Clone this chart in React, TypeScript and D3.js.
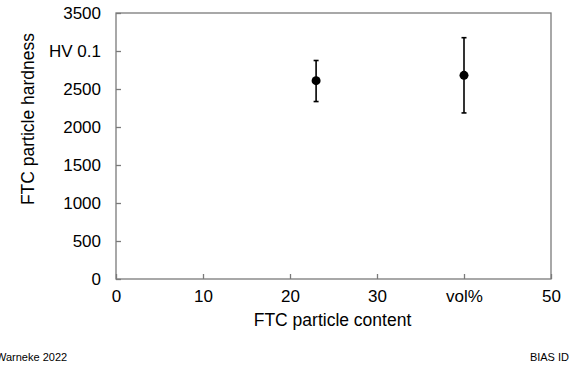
import { useEffect, useRef } from "react"
import * as d3 from "d3"

const content = [23, 40]
const hardness = [2610, 2680]
const errLow = [2335, 2185]
const errHigh = [2875, 3175]

const xTicks = [0, 10, 20, 30, 40, 50]
const xTickLabels = ["0", "10", "20", "30", "vol%", "50"]
const yTicks = [0, 500, 1000, 1500, 2000, 2500, 3000, 3500]
const yTickLabels = ["0", "500", "1000", "1500", "2000", "2500", "HV 0.1", "3500"]

const App = () => {
  const svgRef = useRef<SVGSVGElement>(null)

  useEffect(() => {
    const svg = d3.select(svgRef.current)
    svg.selectAll("*").remove()

    const W = 570
    const H = 368
    const margin = { top: 13, right: 19, bottom: 89, left: 116 }
    const width = W - margin.left - margin.right
    const height = H - margin.top - margin.bottom
    const font = "Liberation Sans, Arial, sans-serif"
    const axisColor = "#7a7a7a"

    svg.attr("width", W).attr("height", H)

    const g = svg.append("g").attr("transform", `translate(${margin.left},${margin.top})`)

    const x = d3.scaleLinear().domain([0, 50]).range([0, width])
    const y = d3.scaleLinear().domain([0, 3500]).range([height, 0])

    // frame
    g.append("rect")
      .attr("width", width)
      .attr("height", height)
      .attr("fill", "none")
      .attr("stroke", axisColor)
      .attr("stroke-width", 1.3)

    // inward ticks
    const xAxis = g
      .append("g")
      .attr("transform", `translate(0,${height})`)
      .call(
        d3
          .axisBottom(x)
          .tickValues(xTicks)
          .tickSizeInner(-5)
          .tickSizeOuter(0)
          .tickPadding(11)
          .tickFormat((d, i) => xTickLabels[i])
      )
    xAxis.select(".domain").remove()
    xAxis.selectAll("line").attr("stroke", axisColor).attr("stroke-width", 1.3)
    xAxis.selectAll("text").style("font-family", font).style("font-size", "17px").attr("fill", "#000")

    const yAxis = g.append("g").call(
      d3
        .axisLeft(y)
        .tickValues(yTicks)
        .tickSizeInner(-5)
        .tickSizeOuter(0)
        .tickPadding(15)
        .tickFormat((d, i) => yTickLabels[i])
    )
    yAxis.select(".domain").remove()
    yAxis.selectAll("line").attr("stroke", axisColor).attr("stroke-width", 1.3)
    yAxis.selectAll("text").style("font-family", font).style("font-size", "17px").attr("fill", "#000")

    // error bars
    const pts = content.map((c, i) => ({ c, v: hardness[i], lo: errLow[i], hi: errHigh[i] }))
    const bars = g.append("g").attr("stroke", "#000").attr("stroke-width", 1.6)
    pts.forEach((d) => {
      bars.append("line").attr("x1", x(d.c)).attr("x2", x(d.c)).attr("y1", y(d.lo)).attr("y2", y(d.hi))
      bars.append("line").attr("x1", x(d.c) - 2.5).attr("x2", x(d.c) + 2.5).attr("y1", y(d.lo)).attr("y2", y(d.lo))
      bars.append("line").attr("x1", x(d.c) - 2.5).attr("x2", x(d.c) + 2.5).attr("y1", y(d.hi)).attr("y2", y(d.hi))
    })

    g.selectAll(".pt")
      .data(pts)
      .enter()
      .append("circle")
      .attr("cx", (d) => x(d.c))
      .attr("cy", (d) => y(d.v))
      .attr("r", 4.5)
      .attr("fill", "#000")

    // axis titles
    g.append("text")
      .attr("x", width / 2 - 1)
      .attr("y", height + 47)
      .attr("text-anchor", "middle")
      .style("font-family", font)
      .style("font-size", "17.5px")
      .text("FTC particle content")

    g.append("text")
      .attr("transform", "rotate(-90)")
      .attr("x", -106)
      .attr("y", -82)
      .attr("text-anchor", "middle")
      .style("font-family", font)
      .style("font-size", "17.5px")
      .text("FTC particle hardness")

    // footer
    svg.append("text")
      .attr("x", -4)
      .attr("y", 361)
      .style("font-family", font)
      .style("font-size", "11px")
      .text("Warneke 2022")

    svg.append("text")
      .attr("x", 569)
      .attr("y", 361)
      .attr("text-anchor", "end")
      .style("font-family", font)
      .style("font-size", "11px")
      .text("BIAS ID")
  }, [])

  return <svg ref={svgRef} style={{ position: "absolute", left: 0, top: 0 }}></svg>
}

export default App
